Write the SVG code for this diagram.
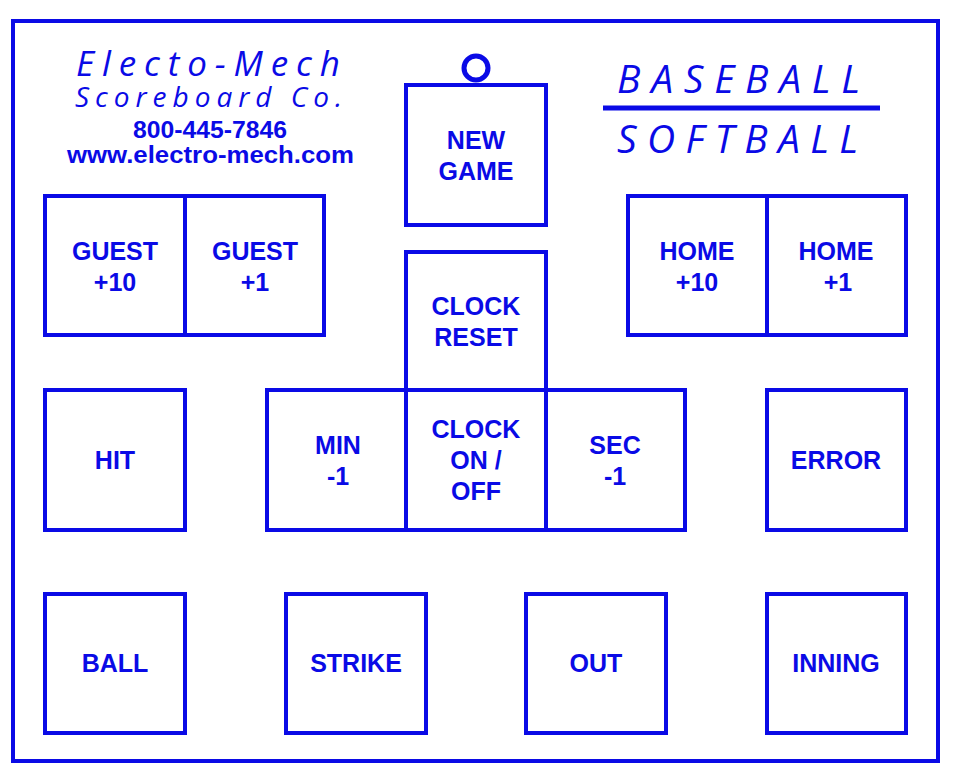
<svg xmlns="http://www.w3.org/2000/svg" width="958" height="782" viewBox="0 0 958 782">
<style>
.b{fill:#fff;stroke:#0a0ae6;stroke-width:4}
.t{fill:#0a0ae6;font-family:"Liberation Sans",Arial,sans-serif;font-weight:bold;font-size:25px;text-anchor:middle}
.i{fill:#0a0ae6;font-family:"Open Sans","Noto Sans",sans-serif;font-style:italic}
.h{fill:#0a0ae6;font-family:"Liberation Sans",Arial,sans-serif;font-weight:bold;font-size:24px}
</style>
<rect width="958" height="782" fill="#fff"/>
<rect x="13" y="21" width="925" height="740" fill="none" stroke="#0a0ae6" stroke-width="4"/>
<g id="header">
<text class="i" x="76" y="76" font-size="35" textLength="264" lengthAdjust="spacing">Electo-Mech</text>
<text class="i" x="75" y="107" font-size="28" textLength="267" lengthAdjust="spacing">Scoreboard Co.</text>
<text class="h" x="133" y="138" textLength="154" lengthAdjust="spacingAndGlyphs">800-445-7846</text>
<text class="h" x="67" y="163" textLength="287" lengthAdjust="spacingAndGlyphs">www.electro-mech.com</text>
<text class="i" x="617" y="93" font-size="39" textLength="243" lengthAdjust="spacing">BASEBALL</text>
<line x1="603" y1="108" x2="880" y2="108" stroke="#0a0ae6" stroke-width="5"/>
<text class="i" x="617" y="153" font-size="39" textLength="241" lengthAdjust="spacing">SOFTBALL</text>
<circle cx="476" cy="68" r="12" fill="#fff" stroke="#0a0ae6" stroke-width="5"/>
</g>
<g id="new-game"><rect class="b" x="406" y="85" width="140" height="140"/><text class="t" x="476" y="149">NEW</text><text class="t" x="476" y="180">GAME</text></g>
<g id="guest10"><rect class="b" x="45" y="196" width="140" height="139"/><text class="t" x="115" y="260">GUEST</text><text class="t" x="115" y="291">+10</text></g>
<g id="guest1"><rect class="b" x="185" y="196" width="139" height="139"/><text class="t" x="255" y="260">GUEST</text><text class="t" x="255" y="291">+1</text></g>
<g id="home10"><rect class="b" x="628" y="196" width="139" height="139"/><text class="t" x="697" y="260">HOME</text><text class="t" x="697" y="291">+10</text></g>
<g id="home1"><rect class="b" x="767" y="196" width="139" height="139"/><text class="t" x="836" y="260">HOME</text><text class="t" x="838" y="291">+1</text></g>
<g id="clock-reset"><rect class="b" x="406" y="252" width="140" height="138"/><text class="t" x="476" y="315">CLOCK</text><text class="t" x="476" y="346">RESET</text></g>
<g id="hit"><rect class="b" x="45" y="390" width="140" height="140"/><text class="t" x="115" y="469">HIT</text></g>
<g id="min"><rect class="b" x="267" y="390" width="139" height="140"/><text class="t" x="338" y="454">MIN</text><text class="t" x="338" y="485">-1</text></g>
<g id="clock-onoff"><rect class="b" x="406" y="390" width="140" height="140"/><text class="t" x="476" y="438">CLOCK</text><text class="t" x="476" y="469">ON /</text><text class="t" x="476" y="500">OFF</text></g>
<g id="sec"><rect class="b" x="546" y="390" width="139" height="140"/><text class="t" x="615" y="454">SEC</text><text class="t" x="615" y="485">-1</text></g>
<g id="error"><rect class="b" x="767" y="390" width="139" height="140"/><text class="t" x="836" y="469">ERROR</text></g>
<g id="ball"><rect class="b" x="45" y="594" width="140" height="139"/><text class="t" x="115" y="672">BALL</text></g>
<g id="strike"><rect class="b" x="286" y="594" width="140" height="139"/><text class="t" x="356" y="672">STRIKE</text></g>
<g id="out"><rect class="b" x="526" y="594" width="140" height="139"/><text class="t" x="596" y="672">OUT</text></g>
<g id="inning"><rect class="b" x="767" y="594" width="139" height="139"/><text class="t" x="836" y="672">INNING</text></g>
<g id="connectors"/>
</svg>
